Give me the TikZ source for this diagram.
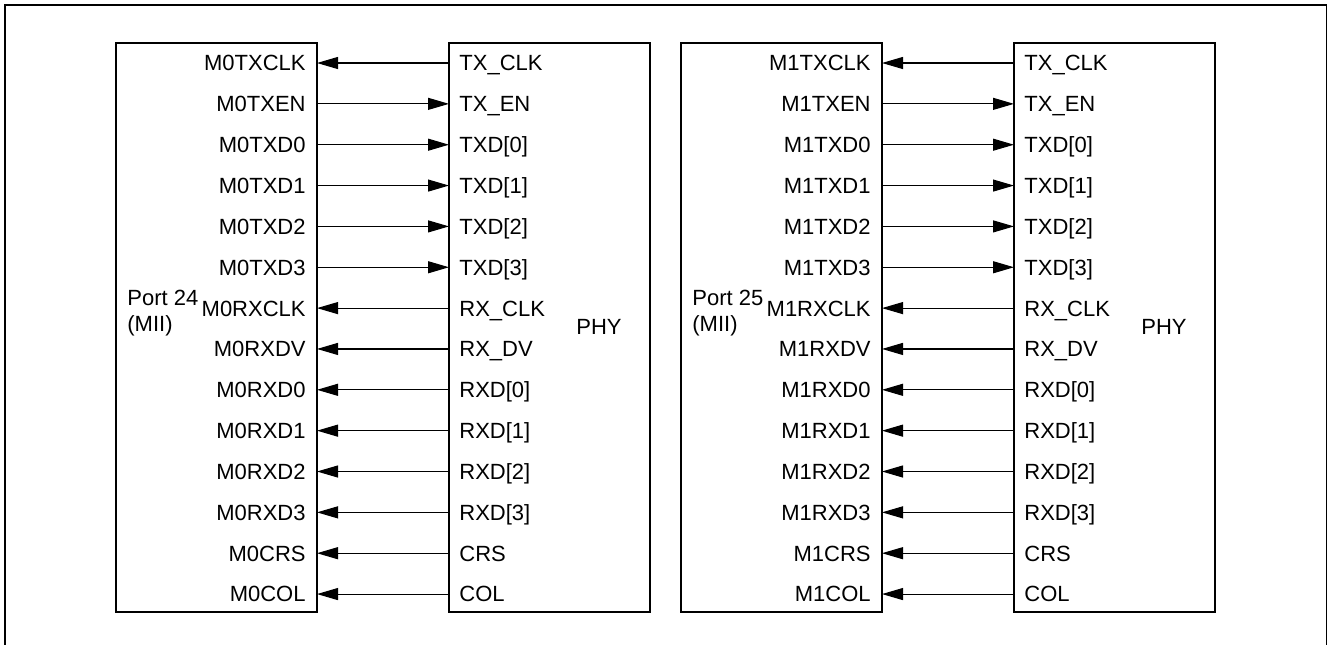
\documentclass[tikz,border=0pt]{standalone}
\usepackage{fontspec}
\setmainfont{Liberation Sans}
\usetikzlibrary{arrows.meta}
\tikzset{
  blk/.style={draw,line width=0.7pt},
  sig/.style={line width=0.55pt},
  tomac/.style={{Triangle[length=10.5pt,width=6pt]}-},
  tophy/.style={-{Triangle[length=10.5pt,width=6pt]}},
  mlbl/.style={anchor=east,inner xsep=5.5pt,inner ysep=0pt,text height=7.9pt,text depth=0pt},
  plbl/.style={anchor=west,inner xsep=5pt,inner ysep=0pt,text height=7.9pt,text depth=0pt},
}
\begin{document}
\begin{tikzpicture}[x=0.5pt,y=-0.5pt,font=\fontsize{11}{12.8}\selectfont]
  \clip (0,0) rectangle (1329,644);
  \draw[line width=0.6pt] (5,5) rectangle (1326.5,700);
  \foreach \n/\xo/\port in {0/0/24,1/565/25}{
    % MAC side and PHY side boxes
    \draw[blk] (116+\xo,43) rectangle (317+\xo,612);
    \draw[blk] (449+\xo,43) rectangle (650+\xo,612);
    \node[anchor=north west,inner sep=0pt,align=left] (port\n) at (127+\xo,290) {Port \port\\(MII)};
    \node (phy\n) at (599+\xo,327) {PHY};
    \foreach \s/\p/\d [count=\i from 0] in {TXCLK/TX\_CLK/tomac,TXEN/TX\_EN/tophy,
        TXD0/TXD[0]/tophy,TXD1/TXD[1]/tophy,TXD2/TXD[2]/tophy,TXD3/TXD[3]/tophy,
        RXCLK/RX\_CLK/tomac,RXDV/RX\_DV/tomac,RXD0/RXD[0]/tomac,RXD1/RXD[1]/tomac,
        RXD2/RXD[2]/tomac,RXD3/RXD[3]/tomac,CRS/CRS/tomac,COL/COL/tomac}{
      \node[mlbl] (m\n\s) at (317+\xo,63+\i*40.85) {M\n\s};
      \node[plbl] (p\n\s) at (449+\xo,63+\i*40.85) {\p};
      \draw[sig,\d] (m\n\s.east) -- (p\n\s.west);
    }
  }
\end{tikzpicture}
\end{document}
